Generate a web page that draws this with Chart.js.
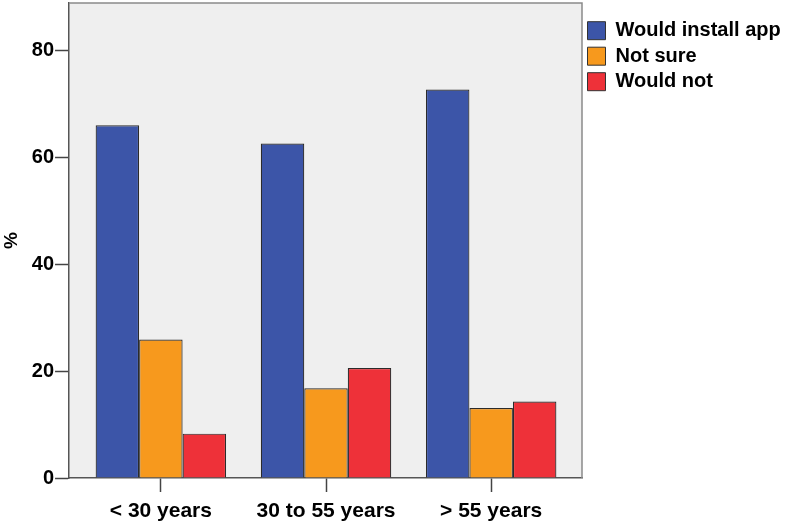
<!DOCTYPE html>
<html>
<head>
<meta charset="utf-8">
<script src="https://cdn.jsdelivr.net/npm/chart.js@4"></script>
<style>
  html, body { margin: 0; padding: 0; background: #fff; }
  #wrap { width: 787px; height: 524px; }
</style>
</head>
<body>
<div id="wrap"><canvas id="chartCanvas"></canvas></div>
<script>
const categories = ['< 30 years', '30 to 55 years', '> 55 years'];
const wouldInstall = [66.0, 62.6, 72.7];
const notSure = [25.9, 16.8, 13.1];
const wouldNot = [8.3, 20.6, 14.3];
const yTicks = [0, 20, 40, 60, 80];

// grey plot background + frame, plus a couple of layout tweaks
const plotFrame = {
  id: 'plotFrame',
  beforeLayout(chart) {
    // fixed legend column width so the plot ends where the reference does
    const lg = chart.legend;
    if (lg && !lg._fixedWidth) {
      const fit = lg.fit.bind(lg);
      lg.fit = function () { fit(); this.width = 205; };
      lg._fixedWidth = true;
    }
    // wider outer margins on the category axis (SPSS style)
    const sx = chart.scales.x;
    if (sx && !sx._wideMargins) {
      const configure = sx.configure.bind(sx);
      sx.configure = function () {
        configure();
        this._startValue = -0.556;
        this._valueRange = 3.106;
      };
      sx._wideMargins = true;
    }
  },
  beforeDraw(chart) {
    const { ctx, chartArea: a } = chart;
    ctx.save();
    ctx.fillStyle = '#efefef';
    ctx.fillRect(a.left, a.top, a.right - a.left, a.bottom - a.top);
    ctx.restore();
  },
  afterDraw(chart) {
    const { ctx, chartArea: a } = chart;
    ctx.save();
    ctx.strokeStyle = '#8a8a8a';
    ctx.lineWidth = 1.5;
    ctx.beginPath();
    ctx.moveTo(a.left, a.top);
    ctx.lineTo(a.right, a.top);
    ctx.lineTo(a.right, a.bottom);
    ctx.stroke();
    ctx.restore();
  }
};

Chart.defaults.font.family = '"Liberation Sans", Arial, sans-serif';
Chart.defaults.font.weight = 'bold';
Chart.defaults.color = '#000';

const ctx = document.getElementById('chartCanvas').getContext('2d');
new Chart(ctx, {
  type: 'bar',
  data: {
    labels: categories,
    datasets: [
      { label: 'Would install app', data: wouldInstall, backgroundColor: '#3c55a8' },
      { label: 'Not sure', data: notSure, backgroundColor: '#f7991d' },
      { label: 'Would not', data: wouldNot, backgroundColor: '#ee3139' }
    ].map(d => Object.assign(d, {
      borderColor: '#2b2b2b',
      borderWidth: 1.2,
      categoryPercentage: 0.79,
      barPercentage: 1
    }))
  },
  options: {
    responsive: true,
    maintainAspectRatio: false,
    animation: false,
    layout: { padding: { top: 3, right: 0, left: 0, bottom: 0 } },
    plugins: {
      tooltip: { enabled: false },
      legend: {
        position: 'right',
        align: 'start',
        title: { display: true, text: '', font: { size: 1 }, padding: { top: 11, bottom: 0 } },
        labels: {
          boxWidth: 18,
          boxHeight: 18,
          padding: 5.5,
          font: { size: 20, weight: 'bold' },
          color: '#000',
          generateLabels(chart) {
            return chart.data.datasets.map((ds, i) => ({
              text: ds.label,
              fillStyle: ds.backgroundColor,
              strokeStyle: '#333',
              lineWidth: 1,
              hidden: false,
              datasetIndex: i
            }));
          }
        }
      }
    },
    scales: {
      x: {
        offset: true,
        afterFit(scale) {
          scale.height = 46;
        },
        grid: {
          offset: false,
          drawOnChartArea: false,
          drawTicks: true,
          tickLength: 14,
          tickColor: '#444',
          tickWidth: 1.5
        },
        border: { color: '#555', width: 1.5 },
        ticks: { font: { size: 21, weight: 'bold' }, padding: 7, color: '#000' }
      },
      y: {
        min: 0,
        max: 88.9,
        afterBuildTicks(scale) {
          scale.ticks = yTicks.map(v => ({ value: v }));
        },
        afterFit(scale) {
          scale.paddingTop = 0;
          scale.paddingBottom = 0;
        },
        grid: {
          drawOnChartArea: false,
          drawTicks: true,
          tickLength: 14,
          tickColor: '#444',
          tickWidth: 1.5
        },
        border: { color: '#555', width: 1.5 },
        ticks: { font: { size: 20, weight: 'bold' }, padding: 1, color: '#000' },
        title: {
          display: true,
          text: '%',
          font: { size: 19, weight: 'bold' },
          color: '#000',
          padding: { top: 0, bottom: 8 }
        }
      }
    }
  },
  plugins: [plotFrame]
});
</script>
</body>
</html>
